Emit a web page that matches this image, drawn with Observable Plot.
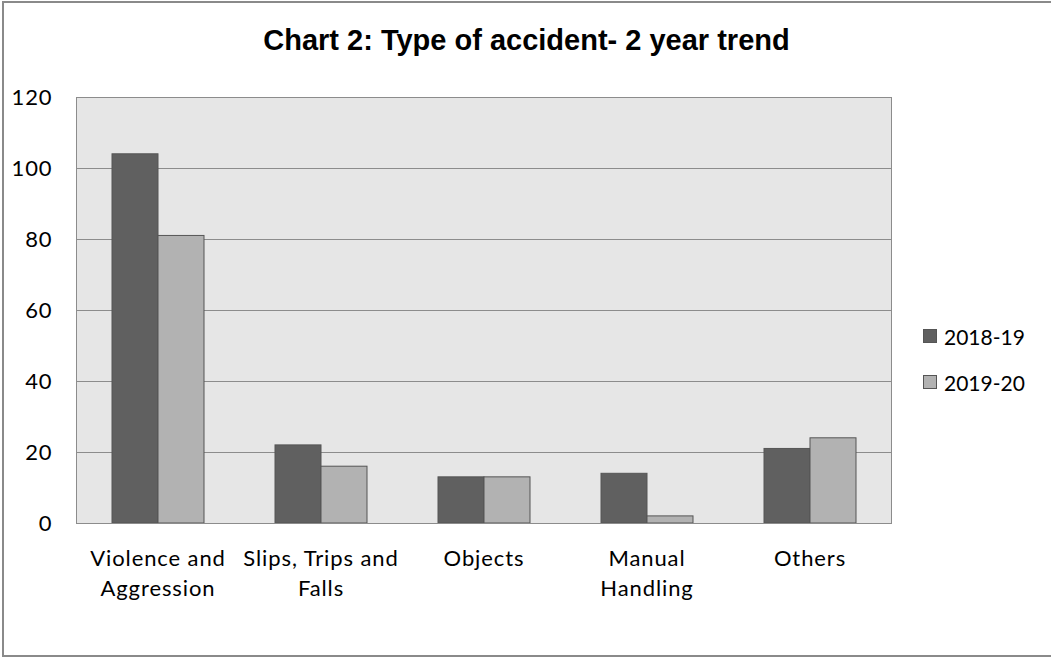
<!DOCTYPE html>
<html><head><meta charset="utf-8">
<script src="https://cdn.jsdelivr.net/npm/d3@7"></script>
<script src="https://cdn.jsdelivr.net/npm/@observablehq/plot@0.6"></script>
<style>
body{margin:0;background:#fff;}
#wrap{position:relative;width:1051px;height:657px;overflow:hidden;}
#border{position:absolute;left:2px;top:1px;width:1100px;height:656px;border:2px solid #8a8a8a;box-sizing:border-box;}
#title{position:absolute;left:0;top:26px;width:1053px;text-align:center;font-family:"Liberation Sans",Arial,sans-serif;font-weight:bold;font-size:29px;line-height:29px;}
#chart{position:absolute;left:0;top:0;}
#legend{position:absolute;left:923px;top:323px;font-family:Lato,sans-serif;font-size:21px;}
.item{display:flex;align-items:center;height:26px;margin-bottom:20px;}
.sw{width:12px;height:12px;border:1px solid #555;margin-right:7px;}
</style></head>
<body>
<div id="wrap">
<div id="border"></div>
<div id="chart"></div>
<div id="title">Chart 2: Type of accident- 2 year trend</div>
<div id="legend"></div>
</div>
<script>
const categories = ["Violence and Aggression","Slips, Trips and Falls","Objects","Manual Handling","Others"];
const tickLabels = ["Violence and\nAggression","Slips, Trips and\nFalls","Objects","Manual\nHandling","Others"];
const series = ["2018-19","2019-20"];
const values2018 = [104,22,13,14,21];
const values2019 = [81,16,13,2,24];
const yTicks = [0,20,40,60,80,100,120];
const colors = ["#606060","#b2b2b2"];

const data = categories.flatMap((c,i)=>[
  {category:c, year:series[0], value:values2018[i]},
  {category:c, year:series[1], value:values2019[i]}
]);

const chart = Plot.plot({
  width:1051, height:657,
  marginLeft:74, marginRight:159, marginTop:97, marginBottom:134,
  style:{fontFamily:"Lato, sans-serif", fontSize:"22px", letterSpacing:"0.9px", color:"#000", background:"transparent"},
  fx:{domain:categories, padding:0, label:null, axis:null},
  x:{domain:series, paddingInner:0, paddingOuter:0.736, axis:null},
  y:{domain:[0,120], ticks:yTicks, tickSize:0, tickPadding:24, label:null},
  color:{domain:series, range:colors},
  marks:[
    Plot.frame({fill:"#e6e6e6", facet:"super"}),
    Plot.ruleY(yTicks, {stroke:"#8c8c8c", strokeOpacity:1}),
    Plot.barY(data, {fx:"category", x:"year", y:"value", fill:"year", stroke:"#555", strokeWidth:1}),
    Plot.frame({stroke:"#8c8c8c", facet:"super"}),
    Plot.axisFx({anchor:"bottom", tickSize:0, tickPadding:21, fontSize:22, lineHeight:1.36, label:null,
      tickFormat:d=>tickLabels[categories.indexOf(d)]})
  ]
});
document.getElementById("chart").appendChild(chart);

const legend = document.getElementById("legend");
series.forEach((s,i)=>{
  const it = document.createElement("div"); it.className="item";
  const sw = document.createElement("div"); sw.className="sw"; sw.style.background=colors[i];
  it.appendChild(sw);
  const t = document.createElement("span"); t.textContent=s; it.appendChild(t);
  legend.appendChild(it);
});
</script>
</body></html>
